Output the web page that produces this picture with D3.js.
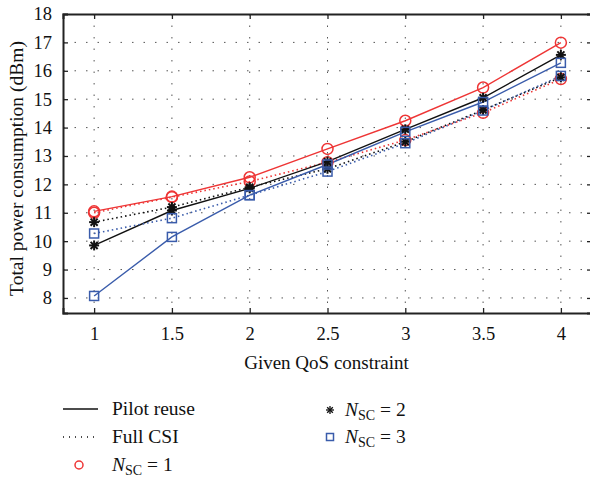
<!DOCTYPE html>
<html>
<head>
<meta charset="utf-8">
<script src="https://cdn.jsdelivr.net/npm/d3@7"></script>
<style>
  body { margin: 0; background: #fff; }
  svg { display: block; font-family: "Liberation Serif", "DejaVu Serif", serif; }
</style>
</head>
<body>
<div class="canva"></div>
<script>
// QoS constraint values on the x axis
const qos = [1, 1.5, 2, 2.5, 3, 3.5, 4];
const xTicks = [1, 1.5, 2, 2.5, 3, 3.5, 4];
const yTicks = [8, 9, 10, 11, 12, 13, 14, 15, 16, 17, 18];

// Pilot reuse (solid lines)
const pilotN1 = [11.05, 11.57, 12.25, 13.25, 14.24, 15.41, 16.99];
const pilotN2 = [9.85, 11.08, 11.86, 12.8, 13.94, 15.05, 16.56];
const pilotN3 = [8.07, 10.15, 11.62, 12.7, 13.85, 14.9, 16.28];
// Full CSI (dotted lines)
const fullN1 = [11.0, 11.55, 12.1, 12.78, 13.56, 14.52, 15.71];
const fullN2 = [10.67, 11.2, 11.9, 12.55, 13.5, 14.62, 15.77];
const fullN3 = [10.27, 10.81, 11.62, 12.45, 13.45, 14.6, 15.82];

const red = '#ee3535', blue = '#3a5cab', black = '#111';

const series = [
  {vals: pilotN1, color: red, mark: 'circle', dash: null},
  {vals: fullN1, color: red, mark: 'circle', dash: '1.5,3'},
  {vals: pilotN2, color: black, mark: 'star', dash: null},
  {vals: fullN2, color: black, mark: 'star', dash: '1.5,3'},
  {vals: pilotN3, color: blue, mark: 'square', dash: null},
  {vals: fullN3, color: blue, mark: 'square', dash: '1.5,3'}
];

const W = 590, H = 481;
const mLeft = 63, mTop = 14, mRight = 592, mBottom = 313;

const svg = d3.select('.canva').append('svg')
  .attr('width', W)
  .attr('height', H);

const x = d3.scaleLinear().domain([0.8, 4.2]).range([mLeft, mRight]);
const y = d3.scaleLinear().domain([7.47, 18]).range([mBottom, mTop]);

// grid
const grid = svg.append('g')
  .attr('stroke', '#555')
  .attr('stroke-width', 1)
  .attr('stroke-dasharray', '1.5,10');
grid.selectAll('.vg').data(xTicks).enter().append('line')
  .attr('x1', d => x(d)).attr('x2', d => x(d))
  .attr('y1', mTop).attr('y2', mBottom);
grid.selectAll('.hg').data(yTicks.slice(0, -1)).enter().append('line')
  .attr('x1', mLeft).attr('x2', mRight)
  .attr('y1', d => y(d)).attr('y2', d => y(d));

// axes (ticks pointing inwards)
const xAxis = svg.append('g')
  .attr('transform', `translate(0,${mBottom})`)
  .call(d3.axisBottom(x).tickValues(xTicks).tickSize(-5).tickPadding(14).tickFormat(d3.format('')));
const xTop = svg.append('g')
  .attr('transform', `translate(0,${mTop})`)
  .call(d3.axisTop(x).tickValues(xTicks).tickSize(-5).tickFormat(''));
const yAxis = svg.append('g')
  .attr('transform', `translate(${mLeft},0)`)
  .call(d3.axisLeft(y).tickValues(yTicks).tickSize(-5).tickPadding(11).tickFormat(d3.format('d')));
const yRight = svg.append('g')
  .attr('transform', `translate(${mRight},0)`)
  .call(d3.axisRight(y).tickValues(yTicks).tickSize(-5).tickFormat(''));

[xAxis, xTop, yAxis, yRight].forEach(g => {
  g.select('.domain').attr('stroke', '#222').attr('stroke-width', 2);
  g.selectAll('.tick line').attr('stroke', '#222').attr('stroke-width', 1.3);
  g.selectAll('.tick text').attr('fill', '#111')
    .style('font-family', '"Liberation Serif", serif').style('font-size', '18.5px');
});

// lines
const line = d3.line().x((d, i) => x(qos[i])).y(d => y(d));
svg.selectAll('.series').data(series).enter().append('path')
  .attr('d', d => line(d.vals))
  .attr('fill', 'none')
  .attr('stroke', d => d.color)
  .attr('stroke-width', d => d.dash ? 1.6 : 1.4)
  .attr('stroke-dasharray', d => d.dash);

// markers
function drawMark(g, type, color, cx, cy, s, sw) {
  if (type === 'circle') {
    g.append('circle').attr('cx', cx).attr('cy', cy).attr('r', s)
      .attr('fill', 'none').attr('stroke', color).attr('stroke-width', 1.5);
  } else if (type === 'square') {
    g.append('rect').attr('x', cx - s).attr('y', cy - s)
      .attr('width', 2 * s).attr('height', 2 * s)
      .attr('fill', 'none').attr('stroke', color).attr('stroke-width', 1.5);
  } else {
    [0, 45, 90, 135].forEach(a => {
      const r = a * Math.PI / 180;
      g.append('line')
        .attr('x1', cx - s * Math.cos(r)).attr('y1', cy - s * Math.sin(r))
        .attr('x2', cx + s * Math.cos(r)).attr('y2', cy + s * Math.sin(r))
        .attr('stroke', color).attr('stroke-width', sw || 2);
    });
  }
}
const marks = svg.append('g');
series.forEach(sr => {
  sr.vals.forEach((v, i) => {
    const size = sr.mark === 'circle' ? 5.5 : sr.mark === 'square' ? 4.5 : 5;
    drawMark(marks, sr.mark, sr.color, x(qos[i]), y(v), size);
  });
});

// axis titles
svg.append('text')
  .attr('x', (mLeft + 590) / 2).attr('y', 369)
  .attr('text-anchor', 'middle')
  .style('font-size', '19px').attr('fill', '#111')
  .text('Given QoS constraint');
svg.append('text')
  .attr('transform', `translate(23,${(mTop + mBottom) / 2 + 5}) rotate(-90)`)
  .attr('text-anchor', 'middle')
  .style('font-size', '19.5px').attr('fill', '#111')
  .text('Total power consumption (dBm)');

// legend
const legend = svg.append('g').style('font-size', '19.5px').attr('fill', '#111');
legend.append('line').attr('x1', 63).attr('x2', 98).attr('y1', 409).attr('y2', 409)
  .attr('stroke', '#111').attr('stroke-width', 1.3);
legend.append('text').attr('x', 112).attr('y', 415).text('Pilot reuse');
legend.append('line').attr('x1', 63).attr('x2', 98).attr('y1', 437).attr('y2', 437)
  .attr('stroke', '#111').attr('stroke-width', 1.3).attr('stroke-dasharray', '1,5');
legend.append('text').attr('x', 112).attr('y', 443).text('Full CSI');

const nsc = [
  {n: 1, mark: 'circle', color: red, mx: 79, ty: 471, size: 4},
  {n: 2, mark: 'star', color: black, mx: 330, ty: 416, size: 4},
  {n: 3, mark: 'square', color: blue, mx: 330, ty: 443, size: 3.5}
];
nsc.forEach(d => {
  drawMark(legend, d.mark, d.color, d.mx, d.ty - 6, d.size, 1.3);
  const t = legend.append('text').attr('x', d.mx + (d.n === 1 ? 33 : 15)).attr('y', d.ty);
  t.append('tspan').style('font-style', 'italic').text('N');
  t.append('tspan').attr('dy', 4).style('font-size', '14px').text('SC');
  t.append('tspan').attr('dy', -4).text(' = ' + d.n);
});
</script>
</body>
</html>
